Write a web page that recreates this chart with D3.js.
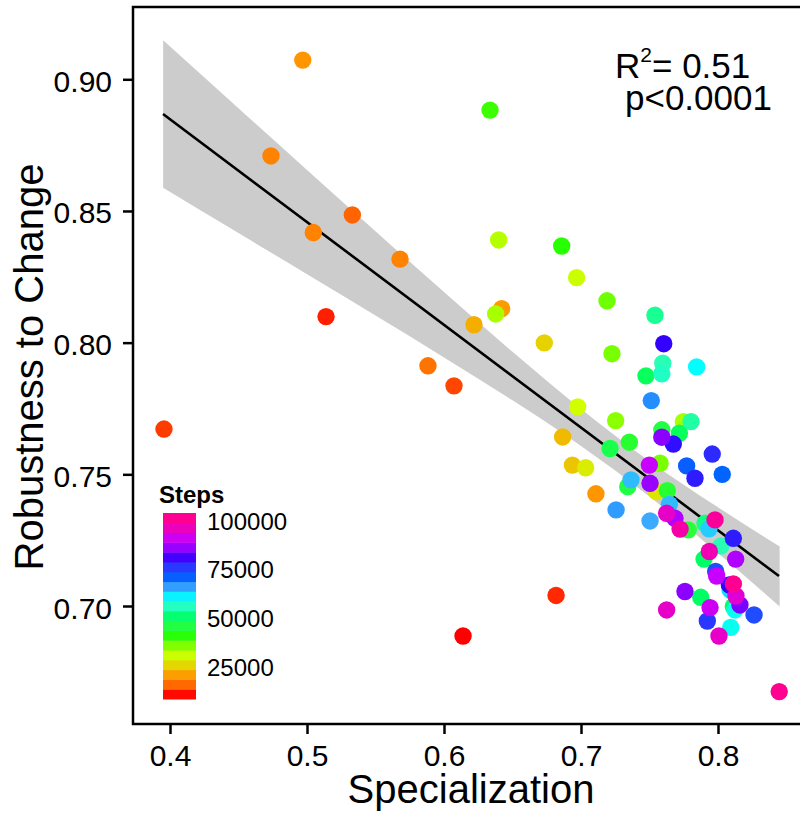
<!DOCTYPE html>
<html lang="en">
<head>
<meta charset="UTF-8">
<title>Robustness vs Specialization</title>
<script src="https://cdn.jsdelivr.net/npm/d3@7"></script>
<style>
    body { margin: 0; background: #fff; }
    svg text { font-family: "Liberation Sans", Helvetica, Arial, sans-serif; fill: #000; }
</style>
</head>
<body>
<svg id="chart" width="800" height="816"></svg>
<script>
    // data
    var specialization = [0.4969, 0.4737, 0.5331, 0.5046, 0.5679, 0.5139, 0.3956, 0.5883, 0.6073, 0.6336,
        0.6399, 0.6859, 0.6968, 0.7190, 0.6421, 0.6377, 0.6219, 0.6732, 0.7540, 0.7604,
        0.7597, 0.7590, 0.7474, 0.7844, 0.7226, 0.7513, 0.6976, 0.7253, 0.7747, 0.7803,
        0.7590, 0.7718, 0.7590, 0.7674, 0.6866, 0.7353, 0.7212, 0.6937, 0.7034, 0.7499,
        0.7577, 0.7771, 0.7832, 0.7958, 0.8031, 0.7365, 0.7341, 0.7504, 0.7630, 0.7551,
        0.7109, 0.7256, 0.7504, 0.7645, 0.7625, 0.7686, 0.7723, 0.7783, 0.7905, 0.7978,
        0.7934, 0.8112, 0.8022, 0.7937, 0.7898, 0.8129, 0.7983, 0.7990, 0.8083, 0.8112,
        0.8088, 0.8131, 0.8160, 0.8124, 0.8112, 0.8263, 0.7759, 0.7874, 0.7942, 0.7922,
        0.7625, 0.8093, 0.8007, 0.6818, 0.8447, 0.6139];
    var robustness = [0.9073, 0.8709, 0.8485, 0.8418, 0.8317, 0.8099, 0.7672, 0.7912, 0.7836, 0.8883,
        0.8390, 0.8367, 0.8247, 0.8159, 0.8129, 0.8109, 0.8068, 0.7999, 0.8104, 0.7996,
        0.7922, 0.7882, 0.7874, 0.7908, 0.7958, 0.7780, 0.7756, 0.7704, 0.7700, 0.7700,
        0.7669, 0.7656, 0.7641, 0.7615, 0.7642, 0.7622, 0.7598, 0.7535, 0.7525, 0.7535,
        0.7542, 0.7532, 0.7485, 0.7577, 0.7500, 0.7479, 0.7453, 0.7466, 0.7438, 0.7434,
        0.7426, 0.7365, 0.7323, 0.7386, 0.7352, 0.7333, 0.7292, 0.7289, 0.7314, 0.7327,
        0.7293, 0.7257, 0.7228, 0.7207, 0.7178, 0.7178, 0.7131, 0.7114, 0.7080, 0.7084,
        0.7061, 0.7038, 0.7004, 0.6985, 0.6998, 0.6966, 0.7055, 0.7033, 0.6994, 0.6943,
        0.6985, 0.6919, 0.6886, 0.7040, 0.6675, 0.6886];
    var steps = [20000, 18000, 15000, 18000, 18000, 11500, 13000, 16500, 13500, 39000,
        32000, 40000, 30500, 36500, 20500, 33000, 22000, 25000, 53000, 80000,
        55000, 56000, 49000, 60000, 36000, 67000, 30000, 35000, 33000, 54000,
        46000, 49000, 85000, 79000, 23000, 44000, 47000, 24000, 28000, 90000,
        36000, 71000, 78000, 77000, 70000, 64000, 46000, 86000, 44000, 27000,
        20000, 66000, 65000, 64000, 95000, 88000, 98000, 45000, 52000, 99000,
        63000, 78000, 55000, 97000, 50000, 88000, 74000, 90000, 80000, 100000,
        62000, 94000, 84000, 59000, 50000, 74000, 85000, 50000, 91000, 76000,
        95000, 59000, 95000, 12000, 100000, 10000];

    // fitted line and confidence band
    var fitX = [0.3949, 0.8445];
    var fitY = [0.8868, 0.7114];
    var bandX = [0.395, 0.45, 0.5, 0.55, 0.6, 0.65, 0.7, 0.75, 0.8, 0.845];
    var bandHi = [0.9148, 0.8890, 0.8656, 0.8423, 0.8192, 0.7965, 0.7748, 0.7550, 0.7375, 0.7226];
    var bandLo = [0.8588, 0.8416, 0.8260, 0.8103, 0.7944, 0.7781, 0.7608, 0.7416, 0.7201, 0.6998];

    var xTicks = [0.4, 0.5, 0.6, 0.7, 0.8];
    var yTicks = [0.70, 0.75, 0.80, 0.85, 0.90];

    // colour scale for steps
    var stepStops = [10000, 15000, 20000, 25000, 30000, 35000, 40000, 45000, 50000, 55000,
        60000, 65000, 70000, 75000, 80000, 85000, 90000, 95000, 100000];
    var stepColors = ["#ff0000", "#ff6400", "#ff9600", "#e6d200", "#d2ff00", "#8cff00", "#28ff00",
        "#28ff3c", "#00ff64", "#28ffb4", "#00ffff", "#3caaff", "#0064ff", "#2846ff", "#3200ff",
        "#8c00ff", "#c800ff", "#e600c8", "#ff0090"];
    var legendTicks = [25000, 50000, 75000, 100000];
    var legendRange = [8000, 103600];
    var legendBins = 19;

    var svg = d3.select("#chart");
    var panelL = 133, panelR = 803, panelT = 7, panelB = 724;

    var x = d3.scaleLinear().domain([0.4, 0.8]).range([170, 718]);
    var y = d3.scaleLinear().domain([0.70, 0.90]).range([606, 79.3]);
    var color = d3.scaleLinear().domain(stepStops).range(stepColors).clamp(true);

    svg.append("defs").append("clipPath").attr("id", "clip")
        .append("rect").attr("x", panelL).attr("y", panelT)
        .attr("width", panelR - panelL).attr("height", panelB - panelT);
    var plot = svg.append("g").attr("clip-path", "url(#clip)");

    // confidence band
    var band = bandX.map(function (d, i) {
        return {x: d, lo: bandLo[i], hi: bandHi[i]};
    });
    plot.append("path")
        .datum(band)
        .attr("fill", "#cccccc")
        .attr("d", d3.area()
            .x(function (d) { return x(d.x); })
            .y0(function (d) { return y(d.lo); })
            .y1(function (d) { return y(d.hi); })
            .curve(d3.curveMonotoneX));

    plot.append("line")
        .attr("x1", x(fitX[0])).attr("y1", y(fitY[0]))
        .attr("x2", x(fitX[1])).attr("y2", y(fitY[1]))
        .attr("stroke", "#000").attr("stroke-width", 2.6);

    // points, drawn in order of steps
    var points = specialization.map(function (d, i) {
        return {x: d, y: robustness[i], s: steps[i]};
    });
    points.sort(function (a, b) { return a.s - b.s; });
    plot.selectAll("circle.pt")
        .data(points)
        .enter().append("circle")
        .attr("class", "pt")
        .attr("cx", function (d) { return x(d.x); })
        .attr("cy", function (d) { return y(d.y); })
        .attr("r", 8.7)
        .attr("fill", function (d) { return color(d.s); });

    // frame
    svg.append("rect")
        .attr("x", panelL).attr("y", panelT)
        .attr("width", panelR - panelL).attr("height", panelB - panelT)
        .attr("fill", "none").attr("stroke", "#000").attr("stroke-width", 2.5);

    // axes
    var xAxis = svg.append("g")
        .attr("transform", "translate(0," + panelB + ")")
        .call(d3.axisBottom(x).tickValues(xTicks).tickFormat(d3.format(".1f")).tickSize(10).tickPadding(11));
    var yAxis = svg.append("g")
        .attr("transform", "translate(" + panelL + ",0)")
        .call(d3.axisLeft(y).tickValues(yTicks).tickFormat(d3.format(".2f")).tickSize(10).tickPadding(11));
    [xAxis, yAxis].forEach(function (a) {
        a.select(".domain").remove();
        a.selectAll(".tick line").attr("stroke", "#000").attr("stroke-width", 2.5);
        a.selectAll(".tick text").attr("font-size", 30).attr("fill", "#000")
            .style("font-family", '"Liberation Sans", Helvetica, Arial, sans-serif');
    });
    yAxis.selectAll(".tick text").attr("dy", "0.4em");

    // axis titles
    svg.append("text")
        .attr("x", 471).attr("y", 803)
        .attr("text-anchor", "middle")
        .attr("font-size", 40)
        .text("Specialization");
    svg.append("text")
        .attr("transform", "translate(43,367) rotate(-90)")
        .attr("text-anchor", "middle")
        .attr("font-size", 40)
        .text("Robustness to Change");

    // stats annotation
    var r2 = svg.append("text").attr("x", 615).attr("y", 78).attr("font-size", 35);
    r2.append("tspan").text("R");
    r2.append("tspan").attr("font-size", 21).attr("dy", -16).text("2");
    r2.append("tspan").attr("dy", 16).text("= 0.51");
    svg.append("text").attr("x", 625).attr("y", 110).attr("font-size", 35).text("p<0.0001");

    // legend
    var ly = d3.scaleLinear().domain(legendRange).range([699, 513]);
    var binW = (legendRange[1] - legendRange[0]) / legendBins;
    var bins = d3.range(legendBins).map(function (i) {
        return legendRange[0] + i * binW;
    });
    var legend = svg.append("g");
    legend.append("text")
        .attr("x", 159).attr("y", 503)
        .attr("font-size", 24).attr("font-weight", "bold")
        .text("Steps");
    legend.selectAll("rect.bin")
        .data(bins)
        .enter().append("rect")
        .attr("class", "bin")
        .attr("x", 163).attr("width", 33)
        .attr("y", function (d) { return ly(d + binW); })
        .attr("height", function (d) { return ly(d) - ly(d + binW) + 0.5; })
        .attr("fill", function (d) { return color(d + binW / 2); });
    legend.selectAll("text.lab")
        .data(legendTicks)
        .enter().append("text")
        .attr("class", "lab")
        .attr("x", 207)
        .attr("y", function (d) { return ly(d) + 1; })
        .attr("dy", "0.36em")
        .attr("font-size", 24)
        .text(function (d) { return d; });
</script>
</body>
</html>
